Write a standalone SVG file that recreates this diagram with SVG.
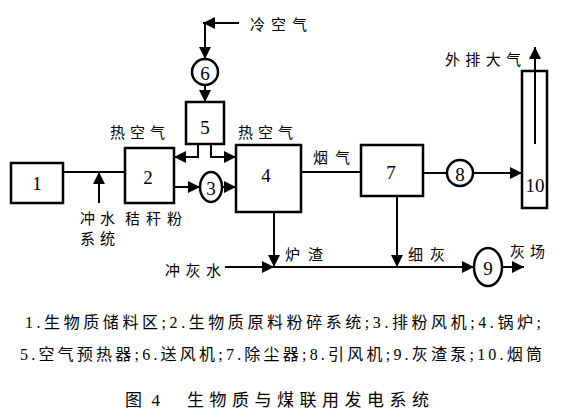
<svg xmlns="http://www.w3.org/2000/svg" width="574" height="419" viewBox="0 0 574 419">
<style>
.box{fill:#fff;stroke:#000;stroke-width:2.5}
.ln{fill:none;stroke:#000;stroke-width:2}
.arr{marker-end:url(#ah)}
text{font-family:"Liberation Serif","Noto Sans CJK SC",serif;fill:#000}
.num{font-size:19px;text-anchor:middle;dominant-baseline:central}
.lbl{font-size:15px;dominant-baseline:central}
.leg{font-size:16px;dominant-baseline:central}
.cap{font-size:17px;dominant-baseline:central}
</style>
<defs>
<marker id="ah" markerUnits="userSpaceOnUse" markerWidth="12" markerHeight="12" refX="11" refY="5.5" orient="auto" viewBox="0 0 11 11">
<path d="M0,0 L11,5.5 L0,11 z" fill="#000"/>
</marker>
</defs>
<rect width="574" height="419" fill="#fff"/>
<g id="connectors">
<path class="ln arr" d="M239,23 H203"/>
<path class="ln arr" d="M205,23 V59"/>
<path class="ln arr" d="M205,86 V102"/>
<path class="ln arr" d="M198,144 V157 H174"/>
<path class="ln arr" d="M211,144 V157 H236"/>
<path class="ln" d="M63,172 H125"/>
<path class="ln arr" d="M99,203 V172"/>
<path class="ln arr" d="M174,187 H200"/>
<path class="ln arr" d="M222,187 H236"/>
<path class="ln" d="M301,172 H361"/>
<path class="ln" d="M423,173 H447"/>
<path class="ln arr" d="M473,173 H522"/>
<path class="ln arr" d="M535,144 V47"/>
<path class="ln arr" d="M274,212 V267"/>
<path class="ln arr" d="M225,267 H274"/>
<path class="ln arr" d="M274,267 H474"/>
<path class="ln arr" d="M397,196 V267"/>
<path class="ln arr" d="M502,267 H524"/>
</g>
<g id="node1"><rect class="box" x="11" y="163" width="52" height="40"/><text class="num" x="37" y="183">1</text></g>
<g id="node2"><rect class="box" x="125" y="148" width="49" height="55"/><text class="num" x="148" y="177">2</text></g>
<g id="node3"><ellipse class="box" cx="211" cy="187" rx="11" ry="15"/><text class="num" x="211" y="188">3</text></g>
<g id="node4"><rect class="box" x="236" y="145" width="65" height="67"/><text class="num" x="266" y="175">4</text></g>
<g id="node5"><rect class="box" x="186" y="102" width="38" height="42"/><text class="num" x="205" y="127">5</text></g>
<g id="node6"><circle class="box" cx="205" cy="72" r="13"/><text class="num" x="205" y="73">6</text></g>
<g id="node7"><rect class="box" x="361" y="145" width="62" height="51"/><text class="num" x="391" y="172">7</text></g>
<g id="node8"><circle class="box" cx="460" cy="173" r="13"/><text class="num" x="460" y="174">8</text></g>
<g id="node9"><ellipse class="box" cx="488" cy="267" rx="14" ry="19"/><text class="num" x="488" y="268">9</text></g>
<g id="node10"><rect class="box" x="522" y="71" width="25" height="137" style="fill:none"/><text class="num" x="535" y="185">10</text></g>
<g id="labels">
<text class="lbl" x="250" y="25" textLength="57" lengthAdjust="spacing">冷空气</text>
<text class="lbl" x="110" y="133" textLength="55" lengthAdjust="spacing">热空气</text>
<text class="lbl" x="238" y="133" textLength="55" lengthAdjust="spacing">热空气</text>
<text class="lbl" x="445" y="60" textLength="76" lengthAdjust="spacing">外排大气</text>
<text class="lbl" x="313" y="158" textLength="37" lengthAdjust="spacing">烟气</text>
<text class="lbl" x="80" y="219" textLength="35" lengthAdjust="spacing">冲水</text>
<text class="lbl" x="80" y="239" textLength="35" lengthAdjust="spacing">系统</text>
<text class="lbl" x="125" y="219" textLength="57" lengthAdjust="spacing">秸秆粉</text>
<text class="lbl" x="165" y="271" textLength="56" lengthAdjust="spacing">冲灰水</text>
<text class="lbl" x="285" y="255" textLength="38" lengthAdjust="spacing">炉渣</text>
<text class="lbl" x="408" y="255" textLength="37" lengthAdjust="spacing">细灰</text>
<text class="lbl" x="510" y="252" textLength="35" lengthAdjust="spacing">灰场</text>
</g>
<g id="legend">
<text class="leg" x="25" y="322" textLength="516" lengthAdjust="spacing">1.生物质储料区;2.生物质原料粉碎系统;3.排粉风机;4.锅炉;</text>
<text class="leg" x="20" y="354" textLength="522" lengthAdjust="spacing">5.空气预热器;6.送风机;7.除尘器;8.引风机;9.灰渣泵;10.烟筒</text>
<text class="cap" x="125" y="400" textLength="35" lengthAdjust="spacing">图 4</text>
<text class="cap" x="187" y="400" textLength="242" lengthAdjust="spacing">生物质与煤联用发电系统</text>
</g>
</svg>
